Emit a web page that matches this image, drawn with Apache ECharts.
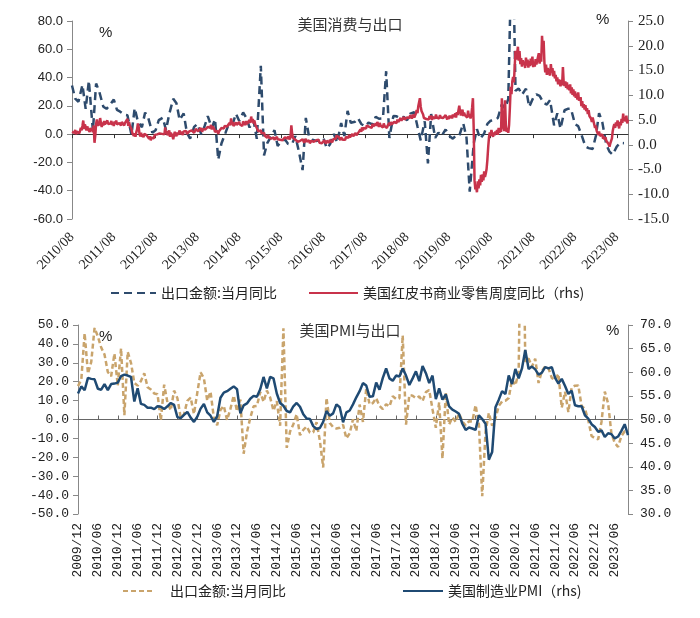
<!DOCTYPE html>
<html><head><meta charset="utf-8">
<script src="https://cdn.jsdelivr.net/npm/echarts@6/dist/echarts.min.js"></script>
<style>html,body{margin:0;padding:0;background:#fff}#c{width:700px;height:618px}</style>
</head><body><div id="c"></div>
<script>
// ---------- data ----------
const topTitle = '美国消费与出口';
const bottomTitle = '美国PMI与出口';
const exportName = '出口金额:当月同比';
const redbookName = '美国红皮书商业零售周度同比（rhs)';
const pmiName = '美国制造业PMI（rhs)';

// monthly, 2009/12 .. 2023/10
const monthFirst = [2009, 12];
const exportYoY = [17.7,
 21.0,45.7,24.3,30.5,48.5,43.9,38.1,34.4,25.1,22.9,34.9,17.9,
 37.7,2.3,35.8,29.9,19.4,17.9,20.4,24.5,17.1,15.9,13.8,13.4,
 -0.5,18.4,8.9,4.9,15.3,11.3,1.0,2.7,9.9,11.6,2.9,14.1,
 25.0,21.8,10.0,14.7,1.0,-3.1,5.1,7.2,-0.3,5.6,12.7,4.3,
 10.6,-18.1,-6.6,0.9,7.0,7.2,14.5,9.4,15.3,11.6,4.7,9.7,
 -3.3,48.3,-15.0,-6.4,-2.5,2.8,-8.3,-5.5,-3.7,-6.9,-6.8,-1.4,
 -11.2,-25.4,11.5,-1.8,-4.1,-4.8,-4.4,-2.8,-10.0,-7.3,0.1,-6.1,
 7.9,-1.3,16.4,8.0,8.7,11.3,7.2,5.5,8.1,6.9,12.3,10.9,
 11.1,44.5,-2.7,12.9,12.6,11.3,12.2,9.8,14.5,15.6,5.4,-4.4,
 9.1,-20.7,14.2,-2.7,1.1,-1.3,3.3,-1.0,-3.2,-0.9,-1.1,7.6,
 -2.5,-40.6,-6.6,3.5,-3.3,0.5,7.2,9.5,9.9,11.4,21.1,18.1,
 24.9,154.9,30.6,32.3,27.9,32.2,19.3,25.6,28.1,27.1,22.0,20.9,
 24.1,6.2,14.7,3.9,16.9,17.9,18.0,7.1,5.7,-0.3,-8.7,-9.9,
 -10.5,-1.3,14.8,8.5,-7.5,-12.4,-14.5,-8.8,-6.2,-6.4];
const pmi = [55.5,
 57.0,56.2,58.8,58.6,58.5,56.5,56.3,57.5,56.2,57.5,57.6,57.8,
 59.2,59.5,59.3,59.0,53.8,56.6,53.3,53.1,52.5,52.5,52.2,52.8,
 52.7,52.2,52.8,53.5,53.1,50.5,50.3,51.0,51.6,50.4,49.5,50.6,
 52.3,53.3,51.5,50.8,49.5,50.7,54.6,55.7,56.0,56.5,57.0,56.4,
 51.3,53.0,53.4,54.4,55.0,54.8,56.4,59.0,56.6,59.0,58.7,55.5,
 53.5,52.9,51.8,51.5,52.8,53.5,52.7,51.1,50.2,50.1,48.6,48.0,
 48.2,49.5,51.8,50.8,51.3,53.2,52.6,49.4,51.5,51.9,53.2,54.7,
 56.0,57.7,57.2,54.8,54.9,57.8,56.3,58.8,60.8,58.7,58.2,59.3,
 59.1,60.8,59.3,57.3,58.7,60.2,58.1,61.3,59.8,57.7,59.3,54.3,
 56.6,54.2,55.3,52.8,52.1,51.7,51.2,49.1,47.8,48.3,48.1,47.8,
 50.9,50.1,49.1,41.5,43.1,52.6,54.2,56.0,55.4,59.3,57.5,60.7,
 58.7,60.8,64.7,60.7,61.2,60.6,59.5,59.9,61.1,60.8,61.1,58.8,
 57.6,58.6,57.1,55.4,56.1,53.0,52.8,52.8,50.9,50.2,49.0,48.4,
 47.4,47.7,46.3,47.1,46.9,46.0,46.4,47.6,49.0,46.7];

// weekly Redbook YoY, first week ending 2010-08-07
const redbookFirstWeek = [2010, 8, 7];
const rb2010 = [2.6,2.2,2.9,2.4,3.0,2.1,2.7,2.5,3.1,2.3,2.8,3.4,2.9,3.8,4.9,3.2,4.1,3.6,2.9,3.7,3.1];
const rb2011 = [3.0,2.6,3.4,2.8,3.3,2.5,3.9,0.4,1.9,4.2,5.1,3.8,4.6,3.9,5.4,4.4,3.6,4.5,3.9,4.8,4.1,4.4,3.7,4.9,4.2,4.6,3.9,4.3,4.8,4.0,4.5,3.8,4.7,4.2,4.9,4.1,4.5,3.7,4.4,4.8,3.9,4.6,4.2,5.0,3.9,4.4,4.7,4.3,5.2,3.8,4.6,3.9];
const rb2012 = [3.6,3.2,2.4,2.0,1.8,2.3,1.6,2.5,3.1,4.3,3.6,2.2,1.7,2.4,1.6,2.1,1.5,2.2,1.8,2.6,1.9,1.5,2.0,1.2,1.7,0.9,1.4,1.1,1.8,1.3,2.0,1.6,2.4,2.1,2.5,1.9,2.3,2.0,2.6,2.2,1.8,2.4,2.1,3.5,2.2,2.8,1.9,2.3,2.9,1.6,2.4,2.0];
const rb2013 = [1.8,1.1,2.0,2.6,2.2,1.7,2.5,2.0,2.4,2.9,2.1,2.6,2.3,2.0,2.7,2.3,2.5,2.8,2.2,2.6,2.4,2.7,3.1,2.5,2.9,2.6,3.0,2.4,2.8,3.2,2.9,3.3,2.7,3.1,2.8,3.4,3.0,2.6,3.2,2.9,3.5,3.1,3.4,3.0,3.6,3.2,3.9,3.4,4.0,3.1,3.7,3.5];
const rb2014 = [3.2,2.6,3.0,2.4,2.8,2.2,2.7,3.1,2.9,3.4,3.1,3.6,3.3,3.8,3.5,4.2,3.7,4.0,3.6,4.4,3.9,5.3,4.1,4.6,3.8,4.2,3.7,4.5,4.0,4.3,3.9,4.6,4.1,4.4,4.2,3.8,4.7,4.3,4.5,4.0,4.8,4.2,4.6,4.1,5.0,4.4,5.7,4.6,5.2,4.3,4.9,4.1];
const rb2015 = [4.0,3.4,3.0,2.7,3.1,2.5,2.9,2.3,2.6,2.0,2.4,1.8,2.2,1.7,1.4,2.0,1.5,1.3,1.8,1.2,1.6,1.1,1.5,1.0,1.4,1.2,1.6,1.1,1.5,1.3,1.0,1.4,1.2,0.9,1.3,1.0,1.5,1.1,1.4,1.2,1.7,1.3,1.1,1.6,3.9,2.2,1.4,1.2,1.7,1.0,1.4,0.8];
const rb2016 = [0.6,1.0,0.4,0.8,0.9,0.5,1.1,0.7,0.4,0.8,1.2,0.6,0.9,0.5,0.9,0.3,0.7,0.8,0.4,1.0,0.6,0.7,0.3,0.9,0.5,0.6,1.0,0.4,0.8,0.5,0.3,0.7,0.5,0.9,0.6,0.2,0.8,0.5,0.7,0.4,1.0,0.6,0.8,0.5,1.1,0.7,0.9,1.2,1.8,1.4,2.2,1.6];
const rb2017 = [1.3,0.9,1.5,1.1,1.0,0.8,1.4,1.0,1.6,1.2,1.8,1.4,2.0,1.5,1.9,1.4,2.2,1.7,2.1,1.6,2.4,1.9,2.3,1.8,2.6,2.2,3.1,2.6,3.5,2.9,3.4,3.0,3.7,3.3,3.9,3.5,4.1,3.6,3.2,3.8,3.4,4.2,3.7,4.0,3.5,4.3,3.8,4.6,4.1,3.6,4.4,3.9,4.2];
const rb2018 = [4.0,3.5,4.3,3.8,3.6,4.2,3.4,3.9,3.7,4.4,3.9,4.6,4.1,4.3,3.8,4.6,4.2,4.8,4.4,5.1,4.6,5.0,4.7,5.4,4.9,5.2,4.8,5.6,5.1,5.4,5.0,5.5,5.2,5.8,5.4,6.0,5.6,5.3,5.7,6.1,5.5,5.9,6.3,7.0,6.4,7.8,8.6,9.4,7.7,6.8,7.2,6.1];
const rb2019 = [5.4,5.0,5.7,5.2,4.9,5.5,5.1,5.8,5.3,5.9,5.0,5.6,5.2,5.8,5.3,6.1,5.5,5.1,5.7,5.3,6.0,5.5,5.2,5.9,5.4,5.8,5.3,6.0,5.6,5.1,5.7,5.2,5.9,5.4,5.9,5.3,6.1,5.6,5.8,6.3,5.5,6.6,6.0,6.4,7.9,6.7,5.9,6.2,7.1,5.8,6.5,6.0];
const rb2020 = [5.8,6.4,5.5,6.9,5.6,6.2,5.3,6.0,7.5,9.4,3.0,-7.2,-9.0,-8.5,-9.6,-7.4,-8.8,-7.0,-8.2,-6.1,-7.5,-6.0,-7.2,-5.4,-6.5,-5.8,-4.9,-3.0,-0.5,1.5,2.5,1.8,3.0,2.2,1.6,2.5,1.9,2.7,2.2,3.0,2.0,3.4,2.4,3.2,2.6,9.4,4.5,3.5,2.8,9.0,3.8,2.6];
const rb2021 = [3.2,2.4,4.0,7.5,11.7,10.2,12.8,13.7,12.6,15.8,19.0,17.2,18.4,19.8,17.0,18.9,16.3,17.5,15.8,17.1,16.2,16.8,15.5,17.6,16.0,17.2,15.6,16.9,15.9,17.4,16.1,17.8,15.7,16.6,15.8,17.3,16.2,17.0,17.0,18.5,16.4,17.9,16.8,22.0,18.9,21.0,16.5,14.6,16.2,14.1,15.5,14.8];
const rb2022 = [15.2,14.0,16.3,14.6,15.5,13.8,14.9,13.4,14.1,12.8,13.6,12.2,13.2,12.5,11.8,13.1,12.0,15.7,12.4,11.9,12.8,11.5,12.6,11.2,12.1,11.0,12.2,10.4,11.6,10.1,11.2,9.8,10.8,9.5,10.3,9.1,10.6,8.9,8.5,9.6,7.8,8.8,7.5,8.2,7.1,8.0,6.8,7.4,6.2,7.0,5.8,5.5];
const rb2023 = [5.3,4.6,5.5,4.8,4.1,3.4,3.9,2.8,2.5,2.0,2.7,1.8,2.2,1.6,2.1,1.2,1.7,1.0,1.5,0.8,1.2,0.6,0.1,-0.4,0.3,0.5,1.3,2.8,3.6,4.2,3.4,4.5,3.8,4.9,4.1,3.3,4.6,3.9,5.2,4.4,6.3,4.8,5.5,4.7,5.9,4.3,5.1];

const redbook = [].concat(rb2010,rb2011,rb2012,rb2013,rb2014,rb2015,rb2016,rb2017,rb2018,rb2019,rb2020,rb2021,rb2022,rb2023);

// ---------- categories ----------
const pad = n => (n < 10 ? '0' : '') + n;
const monthCats = [];
{
  let y = monthFirst[0], m = monthFirst[1];
  for (let i = 0; i < exportYoY.length; i++) {
    monthCats.push(y + '/' + pad(m));
    m++; if (m > 12) { m = 1; y++; }
  }
}
const weekCats = [];
const weekTimes = [];
{
  const t0 = Date.UTC(redbookFirstWeek[0], redbookFirstWeek[1]-1, redbookFirstWeek[2]);
  for (let i = 0; i < redbook.length; i++) {
    const d = new Date(t0 + i * 7 * 86400000);
    weekTimes.push(d.getTime());
    weekCats.push(d.getUTCFullYear() + '/' + pad(d.getUTCMonth()+1) + '/' + pad(d.getUTCDate()));
  }
}
// monthly exports placed on the weekly axis (first week of each month)
const exportWeekly = new Array(redbook.length).fill(null);
monthCats.forEach((mc, i) => {
  const y = +mc.slice(0,4), m = +mc.slice(5,7);
  const t = Date.UTC(y, m-1, 1);
  const idx = weekTimes.findIndex(w => w >= t);
  if (idx >= 0 && (idx > 0 || (y === redbookFirstWeek[0] && m === redbookFirstWeek[1]))) exportWeekly[idx] = exportYoY[i];
});

const isAugStart = (i, v) => v.slice(5,7) === '08' && +v.slice(8,10) <= 7;

const CJK = '"Noto Sans CJK SC", sans-serif';
const chart = echarts.init(document.getElementById('c'), null, {renderer: 'canvas'});
const fmt1 = v => v.toFixed(1);

const option = {
  animation: false,
  backgroundColor: '#fff',
  grid: [
    {left: 72, right: 72, top: 21, height: 198},
    {left: 78, right: 72, top: 325, height: 189}
  ],
  xAxis: [
    {gridIndex: 0, type: 'category', data: weekCats, boundaryGap: false, position: 'bottom',
     axisLine: {show: false, onZero: false}, axisTick: {show: false},
     axisLabel: {interval: isAugStart, formatter: v => v.slice(0,7), rotate: 45, margin: 16,
       fontFamily: '"Liberation Serif", serif', fontSize: 14, color: '#222'}},
    {gridIndex: 0, type: 'category', data: weekCats, boundaryGap: false, position: 'bottom',
     axisLine: {show: true, onZero: true, onZeroAxisIndex: 0, lineStyle: {color: '#333', width: 1}},
     axisTick: {show: true, interval: isAugStart, length: 4, lineStyle: {color: '#333'}},
     axisLabel: {show: false}},
    {gridIndex: 1, type: 'category', data: monthCats, boundaryGap: false, position: 'bottom',
     axisLine: {show: false, onZero: false}, axisTick: {show: false},
     axisLabel: {interval: 5, rotate: 90, margin: 9,
       fontFamily: '"Liberation Mono", monospace', fontSize: 13, color: '#222'}},
    {gridIndex: 1, type: 'category', data: monthCats, boundaryGap: false, position: 'bottom',
     axisLine: {show: true, onZero: true, onZeroAxisIndex: 2, lineStyle: {color: '#666', width: 1}},
     axisTick: {show: true, interval: 5, inside: true, length: 4, lineStyle: {color: '#666'}},
     axisLabel: {show: false}}
  ],
  yAxis: [
    {gridIndex: 0, type: 'value', min: -60, max: 80, interval: 20, position: 'left',
     axisLine: {show: true, lineStyle: {color: '#888'}}, axisTick: {show: true, length: 5, lineStyle: {color: '#888'}},
     splitLine: {show: false},
     axisLabel: {formatter: fmt1, margin: 9, fontFamily: '"Liberation Sans", Arial, sans-serif', fontSize: 13, color: '#222'}},
    {gridIndex: 0, type: 'value', min: -15, max: 25, interval: 5, position: 'right',
     axisLine: {show: true, lineStyle: {color: '#888'}}, axisTick: {show: true, length: 5, lineStyle: {color: '#888'}},
     splitLine: {show: false},
     axisLabel: {formatter: fmt1, margin: 10, fontFamily: '"Liberation Serif", serif', fontSize: 15, color: '#222'}},
    {gridIndex: 1, type: 'value', min: -50, max: 50, interval: 10, position: 'left',
     axisLine: {show: true, lineStyle: {color: '#888'}}, axisTick: {show: true, length: 5, lineStyle: {color: '#888'}},
     splitLine: {show: false},
     axisLabel: {formatter: fmt1, margin: 9, fontFamily: '"Liberation Mono", monospace', fontSize: 13, color: '#222'}},
    {gridIndex: 1, type: 'value', min: 30, max: 70, interval: 5, position: 'right',
     axisLine: {show: true, lineStyle: {color: '#888'}}, axisTick: {show: true, length: 5, lineStyle: {color: '#888'}},
     splitLine: {show: false},
     axisLabel: {formatter: fmt1, margin: 12, fontFamily: '"Liberation Mono", monospace', fontSize: 13, color: '#222'}}
  ],
  legend: [
    {data: [exportName], left: 105, top: 281, itemWidth: 45, itemHeight: 14, itemStyle: {opacity: 0},
     textStyle: {fontFamily: CJK, fontSize: 14, color: '#222'}},
    {data: [redbookName], left: 303, top: 281, itemWidth: 49, itemHeight: 14, itemStyle: {opacity: 0},
     textStyle: {fontFamily: CJK, fontSize: 14, color: '#222'}},
    {data: [exportName + ' '], left: 117, top: 579, itemWidth: 32, itemHeight: 14, itemStyle: {opacity: 0},
     textStyle: {fontFamily: CJK, fontSize: 14, color: '#222', padding: [0,0,0,10]}},
    {data: [pmiName], left: 397, top: 579, itemWidth: 40, itemHeight: 14, itemStyle: {opacity: 0},
     textStyle: {fontFamily: CJK, fontSize: 14, color: '#222'}}
  ],
  graphic: [
    {type: 'text', left: 'center', top: 17, style: {text: topTitle, font: '15px "Noto Sans CJK SC"', fill: '#333'}},
    {type: 'text', left: 'center', top: 323, style: {text: bottomTitle, font: '15px "Noto Sans CJK SC"', fill: '#333'}},
    {type: 'text', left: 99, top: 25, style: {text: '%', font: '15px "Liberation Sans"', fill: '#222'}},
    {type: 'text', left: 596, top: 12, style: {text: '%', font: '15px "Liberation Sans"', fill: '#222'}},
    {type: 'text', left: 99, top: 329, style: {text: '%', font: '15px "Liberation Sans"', fill: '#222'}},
    {type: 'text', left: 606, top: 323, style: {text: '%', font: '15px "Liberation Sans"', fill: '#222'}}
  ],
  series: [
    {name: exportName, type: 'line', xAxisIndex: 0, yAxisIndex: 0, data: exportWeekly, connectNulls: true,
     symbol: 'none', lineStyle: {color: '#2E4B6D', width: 2.5, type: [8, 5]}, itemStyle: {color: '#2E4B6D'}},
    {name: redbookName, type: 'line', xAxisIndex: 0, yAxisIndex: 1, data: redbook,
     symbol: 'none', lineStyle: {color: '#C8334B', width: 2.5}, itemStyle: {color: '#C8334B'}},
    {name: exportName + ' ', type: 'line', xAxisIndex: 2, yAxisIndex: 2, data: exportYoY,
     symbol: 'none', lineStyle: {color: '#C9A46C', width: 2.5, type: [5, 3]}, itemStyle: {color: '#C9A46C'}},
    {name: pmiName, type: 'line', xAxisIndex: 2, yAxisIndex: 3, data: pmi,
     symbol: 'none', lineStyle: {color: '#1F4A73', width: 2.5}, itemStyle: {color: '#1F4A73'}}
  ]
};
chart.setOption(option);
</script>
</body></html>
